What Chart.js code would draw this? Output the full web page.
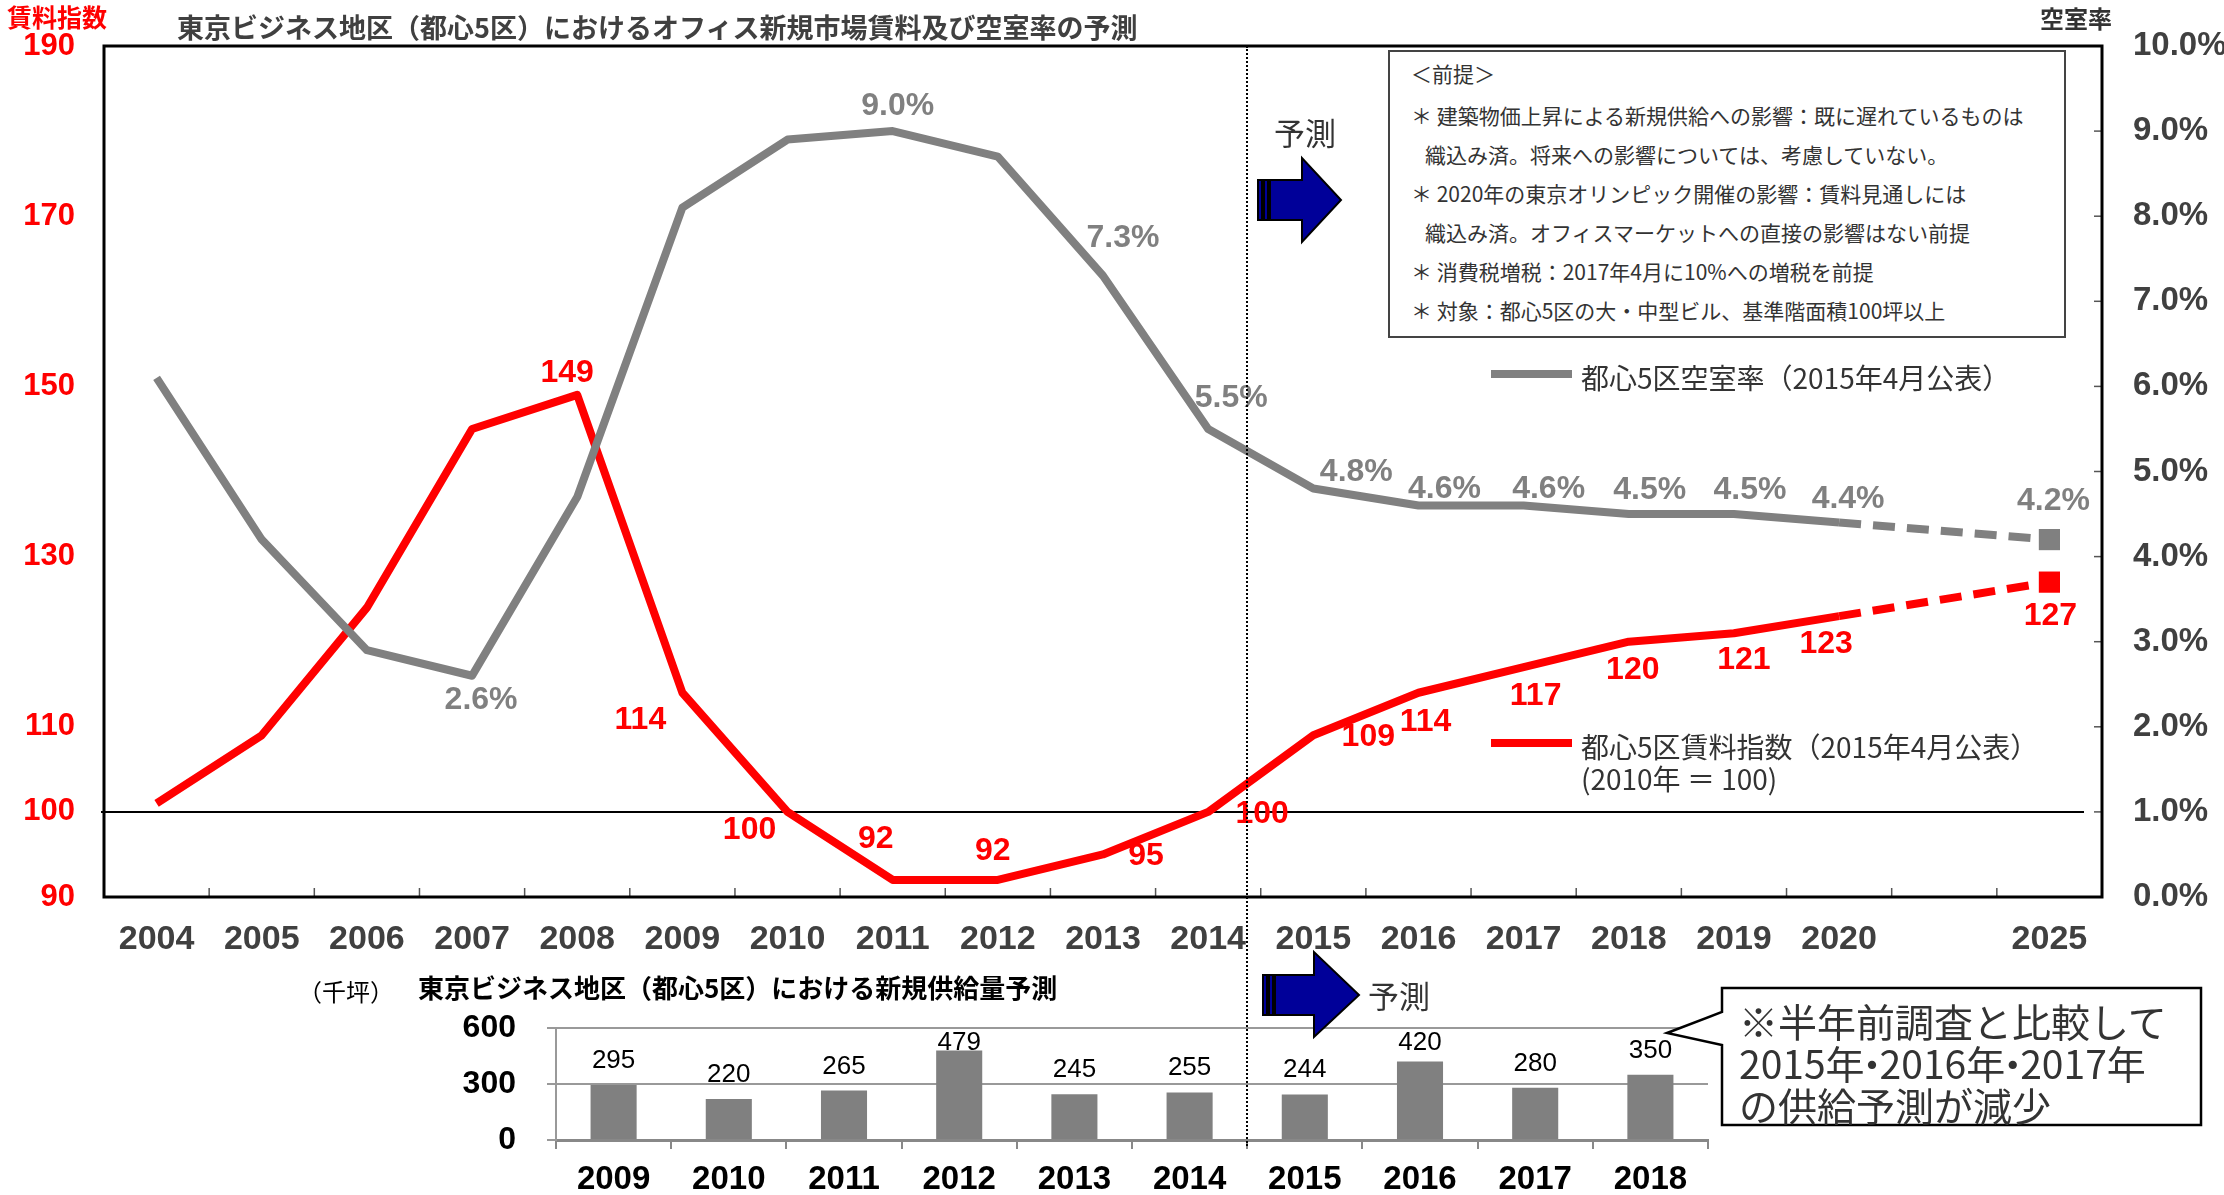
<!DOCTYPE html>
<html lang="ja">
<head>
<meta charset="utf-8">
<title>東京ビジネス地区（都心5区）賃料・空室率・新規供給量予測</title>
<script src="https://cdn.jsdelivr.net/npm/chart.js@4.4.1/dist/chart.umd.min.js"></script>
<style>
  html, body { margin: 0; padding: 0; background: #fff; }
  body {
    position: relative; width: 2224px; height: 1195px; overflow: hidden;
    font-family: "Noto Sans CJK JP", sans-serif; color: #333;
  }
  canvas, svg, .note { position: absolute; }
  #rent_chart { left: 0; top: 0; }
  #supply_chart { left: 0; top: 1000px; }
  #shapes { left: 0; top: 0; }
  .note { white-space: nowrap; }
  #main_title { left: 177px; top: 11px; font-size: 27px; line-height: 32px; font-weight: bold; color: #404040; }
  #rent_axis_title { left: 7px; top: 1px; font-size: 25px; line-height: 30px; font-weight: bold; color: #f00; }
  #vacancy_axis_title { left: 2040px; top: 3px; font-size: 24px; line-height: 30px; font-weight: bold; color: #333; }
  #premises {
    left: 1388px; top: 50px; width: 678px; height: 288px; box-sizing: border-box;
    border: 2px solid #444; padding: 2px 0 0 21px; font-size: 21px; line-height: 39px; background: #fff;
  }
  #premises .head { margin-bottom: 3px; }
  #premises .cont { padding-left: 14px; }
  .forecast { font-size: 31px; line-height: 36px; color: #333; }
  #forecast_top { left: 1274px; top: 114px; }
  #forecast_bottom { left: 1368px; top: 977px; }
  #supply_unit { left: 298px; top: 976px; font-size: 24px; line-height: 30px; color: #000; }
  #supply_title { left: 418px; top: 972px; font-size: 26px; line-height: 30px; font-weight: bold; color: #000; }
  #callout_text { left: 1739px; top: 999px; font-size: 39px; line-height: 42px; color: #333; }
  #callout_text .dot { margin: 0 -12px; }
  #divider { left: 1246px; top: 46px; height: 1100px; border-left: 2px dotted #000; }
</style>
</head>
<body>
<canvas id="rent_chart" width="2224" height="965"></canvas>
<canvas id="supply_chart" width="1760" height="195"></canvas>

<svg id="shapes" width="2224" height="1195">
  <!-- forecast arrow, upper chart -->
  <g fill="#000099" stroke="#000" stroke-width="2">
    <rect x="1258" y="180" width="4" height="40"/>
    <rect x="1264" y="180" width="4" height="40"/>
    <polygon points="1270,180 1302,180 1302,158 1341,200 1302,242 1302,220 1270,220"/>
  </g>
  <!-- forecast arrow, supply chart -->
  <g fill="#000099" stroke="#000" stroke-width="2">
    <rect x="1263" y="975" width="4" height="40"/>
    <rect x="1269" y="975" width="4" height="40"/>
    <polygon points="1275,975 1314,975 1314,952 1359,995 1314,1037 1314,1015 1275,1015"/>
  </g>
  <!-- callout bubble -->
  <path d="M1722,988 H2201 V1125 H1722 V1045 L1667,1033 L1722,1012 Z" fill="#fff" stroke="#000" stroke-width="2.5"/>
</svg>

<div class="note" id="divider"></div>
<div class="note" id="main_title">東京ビジネス地区（都心5区）におけるオフィス新規市場賃料及び空室率の予測</div>
<div class="note" id="rent_axis_title">賃料指数</div>
<div class="note" id="vacancy_axis_title">空室率</div>
<div class="note" id="premises">
  <div class="head">＜前提＞</div>
  <div>＊ 建築物価上昇による新規供給への影響：既に遅れているものは</div>
  <div class="cont">織込み済。将来への影響については、考慮していない。</div>
  <div>＊ 2020年の東京オリンピック開催の影響：賃料見通しには</div>
  <div class="cont">織込み済。オフィスマーケットへの直接の影響はない前提</div>
  <div>＊ 消費税増税：2017年4月に10%への増税を前提</div>
  <div>＊ 対象：都心5区の大・中型ビル、基準階面積100坪以上</div>
</div>
<div class="note forecast" id="forecast_top">予測</div>
<div class="note forecast" id="forecast_bottom">予測</div>
<div class="note" id="supply_unit">（千坪）</div>
<div class="note" id="supply_title">東京ビジネス地区（都心5区）における新規供給量予測</div>
<div class="note" id="callout_text">※半年前調査と比較して<br>2015年<span class="dot">・</span>2016年<span class="dot">・</span>2017年<br>の供給予測が減少</div>

<script>
// rent index (2010 = 100) and vacancy rate; the empty slot keeps 2025 apart
const years = ["2004", "2005", "2006", "2007", "2008", "2009", "2010", "2011", "2012",
  "2013", "2014", "2015", "2016", "2017", "2018", "2019", "2020", "", "2025"];
const rentIndex = [101, 109, 124, 145, 149, 114, 100, 92, 92, 95, 100, 109, 114, 117, 120, 121, 123, null, 127];
const vacancyRate = [6.1, 4.2, 2.9, 2.6, 4.7, 8.1, 8.9, 9.0, 8.7, 7.3, 5.5, 4.8, 4.6, 4.6, 4.5, 4.5, 4.4, null, 4.2];
const rentTicks = [90, 100, 110, 130, 150, 170, 190];

// new supply, thousand tsubo
const supplyYears = ["2009", "2010", "2011", "2012", "2013", "2014", "2015", "2016", "2017", "2018"];
const supplyVolume = [295, 220, 265, 479, 245, 255, 244, 420, 280, 350];
const supplyTicks = [0, 300, 600];

// where each value label sits relative to its point: index -> [dx, dy]
const vacancyLabelAt = { 3: [9, 24], 7: [5, -25], 9: [20, -38], 10: [23, -31], 11: [43, -16], 12: [26, -16],
  13: [25, -16], 14: [21, -24], 15: [16, -24], 16: [9, -23], 18: [4, -38] };
const rentLabelAt = { 4: [-10, -22], 5: [-42, 27], 6: [-38, 18], 7: [-17, -41], 8: [-5, -29], 9: [43, 2],
  10: [54, 2], 11: [55, 2], 12: [7, 29], 13: [12, 29], 14: [4, 28], 15: [10, 27], 16: [-13, 28], 18: [1, 34] };

const lastIdx = years.length - 1;
const latin = '"Liberation Sans", Arial, sans-serif';
const jp = '"Noto Sans CJK JP", sans-serif';
Chart.defaults.font.family = latin;

// pin an axis to a fixed thickness so the plot area lands where it should
function fixBox(size) {
  return (scale) => {
    if (scale.isHorizontal()) scale.height = size;
    else scale.width = size;
    scale.paddingTop = scale.paddingBottom = scale.paddingLeft = scale.paddingRight = 0;
  };
}

function strokeLine(ctx, x1, y1, x2, y2) {
  ctx.beginPath();
  ctx.moveTo(x1, y1);
  ctx.lineTo(x2, y2);
  ctx.stroke();
}

const frame = {
  id: "frame",
  beforeDatasetsDraw(chart) {
    // reference line at index 100
    const { ctx, chartArea: a, scales } = chart;
    const y = scales.y.getPixelForValue(100);
    ctx.save();
    ctx.strokeStyle = "#000";
    ctx.lineWidth = 2;
    strokeLine(ctx, a.left - 3, y, a.right - 18, y);
    ctx.restore();
  },
  afterDraw(chart) {
    const { ctx, chartArea: a, scales } = chart;
    ctx.save();
    ctx.strokeStyle = "#555";
    ctx.lineWidth = 1.5;
    for (let i = 1; i < chart.data.labels.length; i++) {
      const x = (scales.x.getPixelForValue(i - 1) + scales.x.getPixelForValue(i)) / 2;
      strokeLine(ctx, x, a.bottom, x, a.bottom - 9);
    }
    scales.y2.ticks.forEach((t) => {
      const y = scales.y2.getPixelForValue(t.value);
      strokeLine(ctx, a.right, y, a.right - 8, y);
    });
    ctx.strokeStyle = "#000";
    ctx.lineWidth = 3;
    ctx.strokeRect(a.left, a.top, a.width, a.height);
    ctx.restore();
  },
};

const pointLabels = {
  id: "pointLabels",
  afterDatasetsDraw(chart) {
    const ctx = chart.ctx;
    chart.data.datasets.forEach((ds, di) => {
      const meta = chart.getDatasetMeta(di);
      ctx.save();
      ctx.font = "bold 32px " + latin;
      ctx.fillStyle = ds.borderColor;
      ctx.textAlign = "center";
      ctx.textBaseline = "middle";
      Object.entries(ds.labelAt).forEach(([i, [dx, dy]]) => {
        const pt = meta.data[i];
        ctx.fillText(ds.formatValue(ds.data[i]), pt.x + dx, pt.y + dy);
      });
      ctx.restore();
    });
  },
};

const seriesKey = {
  id: "seriesKey",
  afterDraw(chart, args, opts) {
    const ctx = chart.ctx;
    opts.items.forEach((item) => {
      const ds = chart.data.datasets[item.dataset];
      ctx.save();
      ctx.strokeStyle = ds.borderColor;
      ctx.lineWidth = 8;
      strokeLine(ctx, item.x, item.y, item.x + 81, item.y);
      ctx.font = "28px " + jp;
      ctx.fillStyle = "#333";
      ctx.textBaseline = "middle";
      ctx.fillText(ds.label, item.x + 90, item.y + 4);
      if (ds.note) ctx.fillText(ds.note, item.x + 90, item.y + 36);
      ctx.restore();
    });
  },
};

const dashedToEnd = (ctx) => (ctx.p1DataIndex === lastIdx ? [22, 12] : undefined);
const markEnd = (ctx) => (ctx.dataIndex === lastIdx ? 15 : 0);

const rent_chart = new Chart(document.getElementById("rent_chart"), {
  type: "line",
  data: {
    labels: years,
    datasets: [
      {
        label: "都心5区空室率（2015年4月公表）",
        data: vacancyRate,
        yAxisID: "y2",
        borderColor: "#808080",
        backgroundColor: "#808080",
        borderWidth: 8,
        borderJoinStyle: "round",
        tension: 0,
        spanGaps: true,
        pointStyle: "rect",
        pointRadius: markEnd,
        pointBorderWidth: 0,
        segment: { borderDash: dashedToEnd },
        labelAt: vacancyLabelAt,
        formatValue: (v) => v.toFixed(1) + "%",
      },
      {
        label: "都心5区賃料指数（2015年4月公表）",
        note: "(2010年 ＝ 100)",
        data: rentIndex,
        yAxisID: "y",
        borderColor: "#ff0000",
        backgroundColor: "#ff0000",
        borderWidth: 8,
        borderJoinStyle: "round",
        tension: 0,
        spanGaps: true,
        pointStyle: "rect",
        pointRadius: markEnd,
        pointBorderWidth: 0,
        segment: { borderDash: dashedToEnd },
        labelAt: rentLabelAt,
        formatValue: (v) => String(v),
      },
    ],
  },
  options: {
    responsive: false,
    animation: false,
    events: [],
    layout: { padding: { top: 46, left: 0, right: 0, bottom: 0 } },
    plugins: {
      legend: { display: false },
      tooltip: { enabled: false },
      seriesKey: {
        items: [
          { dataset: 0, x: 1491, y: 374 },
          { dataset: 1, x: 1491, y: 743 },
        ],
      },
    },
    scales: {
      x: {
        offset: true,
        grid: { display: false, drawTicks: false },
        border: { display: false },
        ticks: { color: "#404040", padding: 22, maxRotation: 0, autoSkip: false, font: { size: 34, weight: "bold" } },
        afterFit: fixBox(68),
      },
      y: {
        position: "left",
        min: 90,
        max: 190,
        afterBuildTicks: (s) => { s.ticks = rentTicks.map((v) => ({ value: v })); },
        grid: { display: false, drawTicks: false },
        border: { display: false },
        ticks: { color: "#ff0000", padding: 29, font: { size: 31, weight: "bold" } },
        afterFit: fixBox(104),
      },
      y2: {
        position: "right",
        min: 0,
        max: 10,
        grid: { display: false, drawTicks: false },
        border: { display: false },
        ticks: {
          stepSize: 1,
          color: "#404040",
          padding: 31,
          font: { size: 33, weight: "bold" },
          callback: (v) => v.toFixed(1) + "%",
        },
        afterFit: fixBox(122),
      },
    },
  },
  plugins: [frame, pointLabels, seriesKey],
});

const barValues = {
  id: "barValues",
  afterDatasetsDraw(chart) {
    const { ctx, chartArea } = chart;
    const ds = chart.data.datasets[0];
    ctx.save();
    ctx.font = "26px " + latin;
    ctx.fillStyle = "#000";
    ctx.textAlign = "center";
    ctx.textBaseline = "alphabetic";
    chart.getDatasetMeta(0).data.forEach((bar, i) => {
      const y = Math.max(bar.y - 17, chartArea.top + 22);
      ctx.fillText(String(ds.data[i]), bar.x, y);
    });
    ctx.restore();
  },
};

const supply_chart = new Chart(document.getElementById("supply_chart"), {
  type: "bar",
  data: {
    labels: supplyYears,
    datasets: [
      {
        data: supplyVolume,
        backgroundColor: "#808080",
        barPercentage: 0.4,
        categoryPercentage: 1,
      },
    ],
  },
  options: {
    responsive: false,
    animation: false,
    events: [],
    layout: { padding: { top: 28, right: 52, left: 0, bottom: 0 } },
    plugins: { legend: { display: false }, tooltip: { enabled: false } },
    scales: {
      x: {
        grid: { drawOnChartArea: false, tickLength: 9, color: "#888", lineWidth: 2 },
        border: { color: "#888", width: 3 },
        ticks: { color: "#000", padding: 11, maxRotation: 0, font: { size: 33, weight: "bold" } },
        afterFit: fixBox(55),
      },
      y: {
        min: 0,
        max: 600,
        afterBuildTicks: (s) => { s.ticks = supplyTicks.map((v) => ({ value: v })); },
        grid: { color: "#999", lineWidth: 2, tickLength: 9 },
        border: { color: "#999", width: 2 },
        ticks: { color: "#000", padding: 31, font: { size: 32, weight: "bold" } },
        afterFit: fixBox(556),
      },
    },
  },
  plugins: [barValues],
});
</script>
</body>
</html>
